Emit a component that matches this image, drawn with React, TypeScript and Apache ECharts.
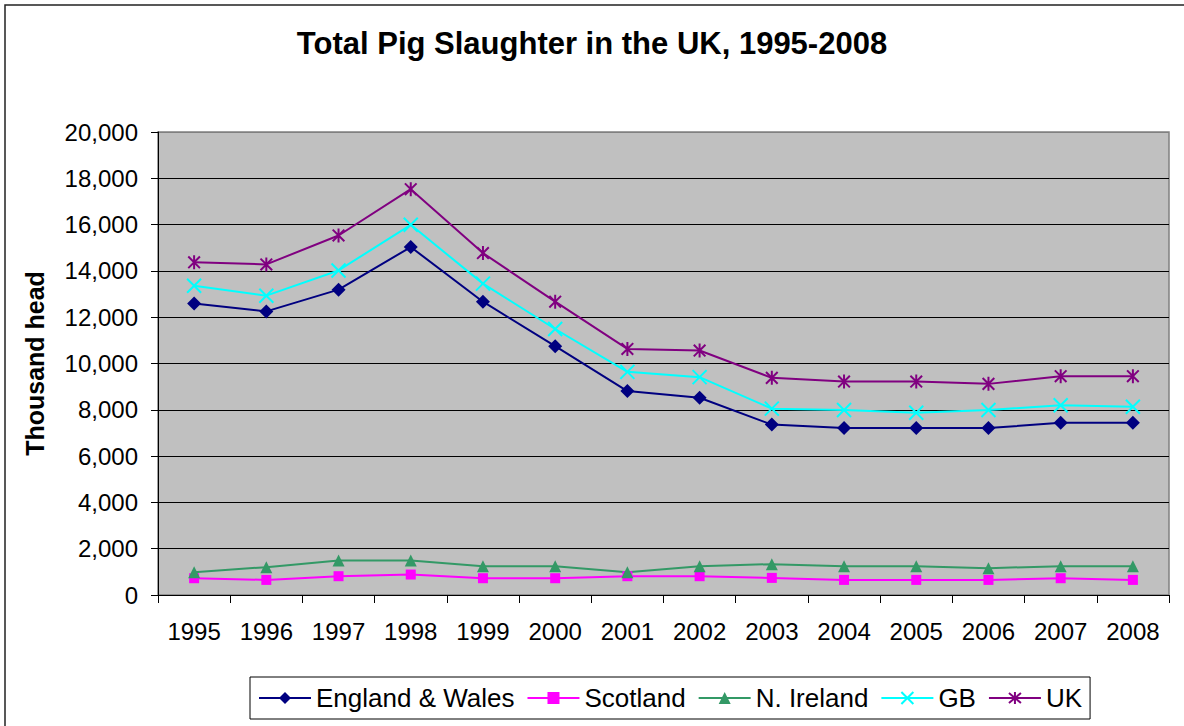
import React, { useEffect, useRef } from "react";
import * as echarts from "echarts";

// Years on the category axis
const years = [
  "1995", "1996", "1997", "1998", "1999", "2000", "2001",
  "2002", "2003", "2004", "2005", "2006", "2007", "2008",
];

// Pig slaughter, thousand head
const englandWales = [12590, 12250, 13190, 15030, 12670, 10750, 8810, 8520, 7360, 7210, 7210, 7210, 7440, 7440];
const scotland = [725, 652, 812, 884, 725, 725, 812, 812, 739, 652, 652, 652, 725, 652];
const nIreland = [985, 1203, 1493, 1493, 1246, 1246, 985, 1246, 1333, 1246, 1246, 1159, 1246, 1246];
const gb = [13360, 12930, 14020, 15990, 13450, 11490, 9640, 9410, 8050, 7990, 7870, 7990, 8200, 8130];
const uk = [14370, 14280, 15530, 17530, 14770, 12670, 10630, 10560, 9380, 9220, 9220, 9120, 9450, 9450];

const FONT = "'Liberation Sans', Arial, sans-serif";

const CROSS = "path://M0,0L10,10M10,0L0,10";
const ASTERISK = "path://M0,0L10,10M10,0L0,10M5,-1L5,11";

function lineSeries(name: string, data: number[], color: string, symbol: string, size: number, stroked = false) {
  return {
    name,
    type: "line",
    data,
    symbol,
    symbolSize: size,
    symbolKeepAspect: true,
    showSymbol: true,
    lineStyle: { color, width: 2 },
    itemStyle: stroked
      ? { color: "rgba(0,0,0,0)", borderColor: color, borderWidth: 2 }
      : { color, borderWidth: 0 },
    emphasis: { disabled: true },
    z: 3,
  };
}

export default function App() {
  const ref = useRef<HTMLDivElement>(null);

  useEffect(() => {
    if (!ref.current) return;
    const chart = echarts.init(ref.current, undefined, { renderer: "svg" });
    const gridColors = Array.from({ length: 11 }, (_, i) => (i === 10 ? "#808080" : "#000000"));

    chart.setOption({
      animation: false,
      backgroundColor: "#ffffff",
      textStyle: { fontFamily: FONT },
      title: {
        text: "Total Pig Slaughter in the UK, 1995-2008",
        left: "center",
        top: 28,
        padding: 0,
        textStyle: { fontFamily: FONT, fontSize: 31, fontWeight: "bold", color: "#000" },
      },
      graphic: [
        {
          type: "rect",
          shape: { x: 5, y: 5, width: 1200, height: 740 },
          style: { fill: "none", stroke: "#222", lineWidth: 1.5 },
          silent: true,
          z: 100,
        },
      ],
      grid: {
        left: 158,
        top: 132,
        right: 15,
        bottom: 131,
        show: true,
        backgroundColor: "#C0C0C0",
        borderColor: "#808080",
        borderWidth: 1.5,
      },
      legend: {
        left: 250,
        top: 677,
        padding: [8, 8, 8, 8],
        borderColor: "#000",
        borderWidth: 1,
        itemWidth: 52,
        itemHeight: 15,
        itemGap: 12,
        textStyle: { fontFamily: FONT, fontSize: 26, color: "#000" },
        data: ["England & Wales", "Scotland", "N. Ireland", "GB", "UK"],
      },
      xAxis: {
        type: "category",
        data: years,
        boundaryGap: true,
        axisLine: { show: true, lineStyle: { color: "#000", width: 1 } },
        axisTick: { show: true, length: 8, interval: 0, lineStyle: { color: "#000" } },
        axisLabel: { fontFamily: FONT, fontSize: 24, color: "#000", margin: 24, interval: 0 },
        splitLine: { show: false },
      },
      yAxis: {
        type: "value",
        min: 0,
        max: 20000,
        interval: 2000,
        name: "Thousand head",
        nameLocation: "middle",
        nameRotate: 90,
        nameGap: 111,
        nameTextStyle: { fontFamily: FONT, fontSize: 25, fontWeight: "bold", color: "#000" },
        axisLine: { show: true, lineStyle: { color: "#000", width: 1 } },
        axisTick: { show: true, length: 7, lineStyle: { color: "#000" } },
        axisLabel: {
          fontFamily: FONT,
          fontSize: 24,
          color: "#000",
          margin: 20,
          formatter: (v: number) => v.toLocaleString("en-US"),
        },
        splitLine: { show: true, lineStyle: { color: gridColors, width: 1 } },
      },
      series: [
        lineSeries("England & Wales", englandWales, "#000080", "diamond", 14),
        lineSeries("Scotland", scotland, "#FF00FF", "rect", 10),
        lineSeries("N. Ireland", nIreland, "#339966", "triangle", 12),
        lineSeries("GB", gb, "#00FFFF", CROSS, 14, true),
        lineSeries("UK", uk, "#800080", ASTERISK, 14, true),
      ],
    });

    return () => chart.dispose();
  }, []);

  return (
    <div
      ref={ref}
      style={{ position: "fixed", left: 0, top: 0, width: 1184, height: 726 }}
    />
  );
}
